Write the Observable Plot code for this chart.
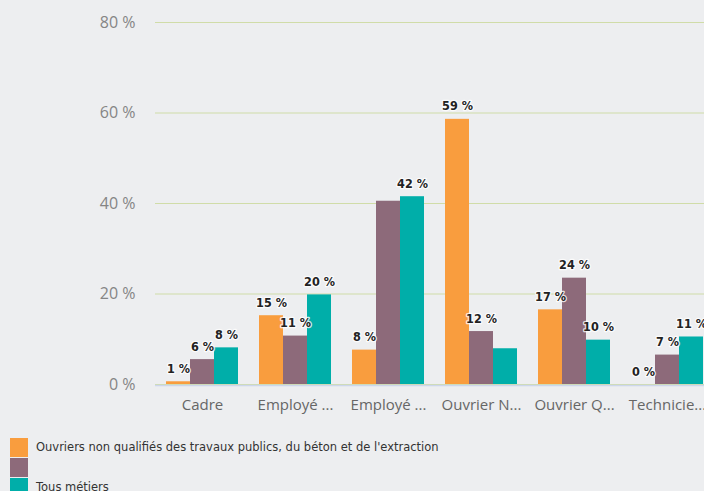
<!DOCTYPE html>
<html>
<head>
<meta charset="utf-8">
<script src="https://cdn.jsdelivr.net/npm/d3@7"></script>
<script src="https://cdn.jsdelivr.net/npm/@observablehq/plot@0.6"></script>
<style>
  html, body { margin: 0; padding: 0; background: #edeef0; overflow: hidden; width: 704px; height: 491px; }
  #chart { position: relative; width: 722px; height: 430px; }
  #chart svg { display: block; position: absolute; left: 0; top: 0; max-width: none !important; }
  .legend { position: absolute; left: 10px; top: 437px; font-family: "DejaVu Sans", sans-serif; font-size: 11.5px; color: #333; }
  .legend .item { display: flex; align-items: center; height: 20px; }
  .legend .sw { width: 18px; height: 19px; margin-right: 8px; flex: none; }
</style>
</head>
<body>
<div id="chart"></div>
<div class="legend" id="legend"></div>
<script>
const categories = ["Cadre", "Employé ...", "Employé ...", "Ouvrier N...", "Ouvrier Q...", "Technicie..."];
const seriesNames = ["Ouvriers non qualifiés des travaux publics, du béton et de l'extraction", "", "Tous métiers"];
const orangeValues = [0.6, 15.2, 7.6, 58.6, 16.5, 0];
const mauveValues = [5.5, 10.7, 40.5, 11.7, 23.5, 6.5];
const tealValues = [8.1, 19.8, 41.5, 7.9, 9.8, 10.5];
const orangeLabels = ["1 %", "15 %", "8 %", "59 %", "17 %", "0 %"];
const mauveLabels = ["6 %", "11 %", null, "12 %", "24 %", "7 %"];
const tealLabels = ["8 %", "20 %", "42 %", null, "10 %", "11 %"];
const yTicks = [0, 20, 40, 60, 80];
const colors = ["#f99d3e", "#8d6a7a", "#00aea9"];

const valueSets = [orangeValues, mauveValues, tealValues];
const labelSets = [orangeLabels, mauveLabels, tealLabels];
const data = [];
categories.forEach((c, i) => {
  valueSets.forEach((vals, s) => {
    data.push({cat: i, s, value: vals[i], label: labelSets[s][i]});
  });
});

const frame = {
  width: 722,
  height: 430,
  marginLeft: 155,
  marginRight: 7,
  marginTop: 22,
  marginBottom: 46
};

// Underlay: gridlines, y axis, baseline (continuous across the whole plot)
const under = Plot.plot({
  ...frame,
  style: {background: "#edeef0", fontFamily: "'Open Sans', sans-serif", maxWidth: "none"},
  x: {axis: null, domain: [0, 1]},
  y: {domain: [0, 80], axis: null, label: null},
  marks: [
    Plot.gridY(yTicks, {stroke: "#d0dca8", strokeOpacity: 1, strokeWidth: 1.2}),
    Plot.axisY(yTicks, {tickSize: 0, tickPadding: 20, tickFormat: d => d + " %", fontSize: 16, fill: "#858585", label: null}),
    Plot.ruleY([0], {stroke: "#ccd6eb", strokeWidth: 1.5, dy: 1})
  ]
});

// Overlay: grouped bars, labels, category axis
const over = Plot.plot({
  ...frame,
  style: {background: "transparent", fontFamily: "'Open Sans', sans-serif", maxWidth: "none"},
  fx: {domain: d3.range(categories.length), paddingInner: 0.2, paddingOuter: 0.11, label: null},
  x: {domain: [0, 1, 2], padding: 0, axis: null},
  y: {domain: [0, 80], axis: null, label: null},
  color: {domain: [0, 1, 2], range: colors},
  marks: [
    Plot.barY(data, {fx: "cat", x: "s", y: "value", fill: "s", inset: 0}),
    Plot.text(data.filter(d => d.label), {fx: "cat", x: "s", y: "value", text: "label", lineAnchor: "bottom", dy: -9,
      fontSize: 12.5, fontWeight: "bold", fill: "#222", stroke: "white", strokeWidth: 2.5, strokeOpacity: 0.8,
      fontFamily: "'DejaVu Sans Condensed', 'DejaVu Sans', sans-serif"}),
    Plot.axisFx({anchor: "bottom", tickSize: 0, tickPadding: 15, tickFormat: i => categories[i], fontSize: 15, fill: "#666", label: null})
  ]
});

const holder = document.getElementById("chart");
holder.appendChild(under);
holder.appendChild(over);

const legend = document.getElementById("legend");
seriesNames.forEach((name, i) => {
  const item = document.createElement("div");
  item.className = "item";
  const sw = document.createElement("div");
  sw.className = "sw";
  sw.style.background = colors[i];
  const t = document.createElement("span");
  t.textContent = name;
  item.appendChild(sw);
  item.appendChild(t);
  legend.appendChild(item);
});
</script>
</body>
</html>
